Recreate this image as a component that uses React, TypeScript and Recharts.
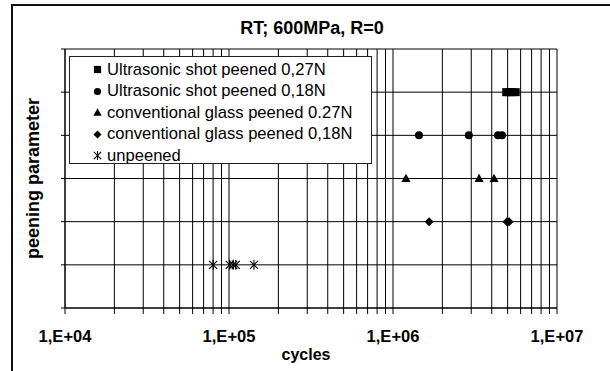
import React from 'react';
import { ScatterChart, Scatter, XAxis, YAxis, CartesianGrid, Legend, Label } from 'recharts';

const FONT = '"Liberation Sans", Arial, Helvetica, sans-serif';

// ---- data ----
const xTicks = [
  1e4, 2e4, 3e4, 4e4, 5e4, 6e4, 7e4, 8e4, 9e4,
  1e5, 2e5, 3e5, 4e5, 5e5, 6e5, 7e5, 8e5, 9e5,
  1e6, 2e6, 3e6, 4e6, 5e6, 6e6, 7e6, 8e6, 9e6,
  1e7,
];
const decadeTicks = [1e4, 1e5, 1e6, 1e7];
const decadeLabels = ['1,E+04', '1,E+05', '1,E+06', '1,E+07'];
const yTicks = [0, 1, 2, 3, 4, 5, 6];

const seriesNames = [
  'Ultrasonic shot peened 0,27N',
  'Ultrasonic shot peened 0,18N',
  'conventional glass peened 0.27N',
  'conventional glass peened 0,18N',
  'unpeened',
];
const seriesLevels = [5, 4, 3, 2, 1];

const usp027Cycles = [4.9e6, 5.1e6, 5.35e6, 5.6e6];
const usp018Cycles = [1.44e6, 2.9e6, 4.37e6, 4.62e6];
const cgp027Cycles = [1.2e6, 3.35e6, 4.13e6];
const cgp018Cycles = [1.66e6, 4.95e6, 5.1e6];
const unpeenedCycles = [8.0e4, 1.01e5, 1.06e5, 1.1e5, 1.42e5];

const seriesCycles = [usp027Cycles, usp018Cycles, cgp027Cycles, cgp018Cycles, unpeenedCycles];
const seriesData = seriesCycles.map((arr, i) => arr.map((x) => ({ x, y: seriesLevels[i] })));

// ---- markers ----
type Kind = 'square' | 'circle' | 'triangle' | 'diamond' | 'asterisk';
const kinds: Kind[] = ['square', 'circle', 'triangle', 'diamond', 'asterisk'];

function Marker({ kind, cx, cy, s = 1 }: { kind: Kind; cx: number; cy: number; s?: number }) {
  switch (kind) {
    case 'square':
      return <rect x={cx - 4 * s} y={cy - 4 * s} width={8 * s} height={8 * s} fill="#000" />;
    case 'circle':
      return <circle cx={cx} cy={cy} r={4 * s} fill="#000" />;
    case 'triangle':
      return (
        <path
          d={`M${cx},${cy - 4.8 * s}L${cx + 4.6 * s},${cy + 3.6 * s}L${cx - 4.6 * s},${cy + 3.6 * s}Z`}
          fill="#000"
        />
      );
    case 'diamond':
      return (
        <path
          d={`M${cx},${cy - 4.5 * s}L${cx + 4.5 * s},${cy}L${cx},${cy + 4.5 * s}L${cx - 4.5 * s},${cy}Z`}
          fill="#000"
        />
      );
    case 'asterisk':
    default:
      return (
        <g stroke="#000" strokeWidth={1.1} fill="none">
          <line x1={cx - 4 * s} y1={cy - 4 * s} x2={cx + 4 * s} y2={cy + 4 * s} />
          <line x1={cx - 4 * s} y1={cy + 4 * s} x2={cx + 4 * s} y2={cy - 4 * s} />
          <line x1={cx} y1={cy - 5 * s} x2={cx} y2={cy + 5 * s} />
        </g>
      );
  }
}

const makeShape = (kind: Kind) => (props: any) => {
  const { cx, cy } = props;
  if (cx == null || cy == null) return <g />;
  return <Marker kind={kind} cx={cx} cy={cy} />;
};

const LegendBox = () => (
  <div
    style={{
      width: 303,
      height: 108,
      boxSizing: 'border-box',
      border: '1px solid #222',
      background: '#fff',
      paddingTop: 2,
      fontFamily: FONT,
      fontSize: 16.6,
      color: '#000',
    }}
  >
    {seriesNames.map((name, i) => (
      <div key={name} style={{ height: 21.5, display: 'flex', alignItems: 'center', whiteSpace: 'nowrap' }}>
        <svg width={37} height={21} style={{ flex: 'none' }}>
          <Marker kind={kinds[i]} cx={27.5} cy={10.5} s={0.9} />
        </svg>
        <span>{name}</span>
      </div>
    ))}
  </div>
);

const xFormatter = (v: number) => {
  const idx = decadeTicks.indexOf(v);
  return idx >= 0 ? decadeLabels[idx] : '';
};

export default function App() {
  return (
    <div
      style={{
        position: 'fixed',
        left: 0,
        top: 0,
        width: 610,
        height: 371,
        overflow: 'hidden',
        background: '#fff',
      }}
    >
      <div
        style={{
          position: 'absolute',
          left: 11,
          top: 4,
          width: 700,
          height: 500,
          borderLeft: '2px solid #111',
          borderTop: '2px solid #111',
        }}
      />
      <div
        style={{
          position: 'absolute',
          left: 0,
          width: 624,
          top: 17,
          textAlign: 'center',
          fontFamily: FONT,
          fontWeight: 'bold',
          fontSize: 18,
          lineHeight: '22px',
          color: '#000',
          zIndex: 2,
        }}
      >
        RT; 600MPa, R=0
      </div>
      <div style={{ position: 'absolute', left: 0, top: 0 }}>
        <ScatterChart width={610} height={371} margin={{ top: 49, right: 53, bottom: 0, left: 0 }}>
          <CartesianGrid stroke="#000" strokeWidth={1} />
          <XAxis
            dataKey="x"
            type="number"
            scale="log"
            domain={[1e4, 1e7]}
            allowDataOverflow
            ticks={xTicks}
            interval={0}
            tickFormatter={xFormatter}
            height={63}
            tickSize={6}
            tickMargin={16}
            axisLine={{ stroke: '#000' }}
            tickLine={{ stroke: '#000' }}
            tick={{ fill: '#000', fontSize: 16.5, fontWeight: 'bold', fontFamily: FONT }}
          >
            <Label
              value="cycles"
              position="insideBottom"
              offset={11}
              dx={-5}
              style={{ fill: '#000', fontSize: 16, fontWeight: 'bold', fontFamily: FONT }}
            />
          </XAxis>
          <YAxis
            dataKey="y"
            type="number"
            domain={[0, 6]}
            ticks={yTicks}
            interval={0}
            tickFormatter={() => ''}
            width={65}
            tickSize={4}
            axisLine={{ stroke: '#000' }}
            tickLine={{ stroke: '#000' }}
          >
            <Label
              value="peening parameter"
              angle={-90}
              position="center"
              dx={0}
              style={{ fill: '#000', fontSize: 18, fontWeight: 'bold', fontFamily: FONT, textAnchor: 'middle' }}
            />
          </YAxis>
          <Legend
            layout="vertical"
            align="center"
            verticalAlign="middle"
            content={() => <LegendBox />}
            wrapperStyle={{ position: 'absolute', left: 69, top: 56, width: 303, height: 108 }}
          />
          {seriesData.map((d, i) => (
            <Scatter
              key={seriesNames[i]}
              name={seriesNames[i]}
              data={d}
              fill="#000"
              shape={makeShape(kinds[i])}
              isAnimationActive={false}
            />
          ))}
        </ScatterChart>
      </div>
    </div>
  );
}
